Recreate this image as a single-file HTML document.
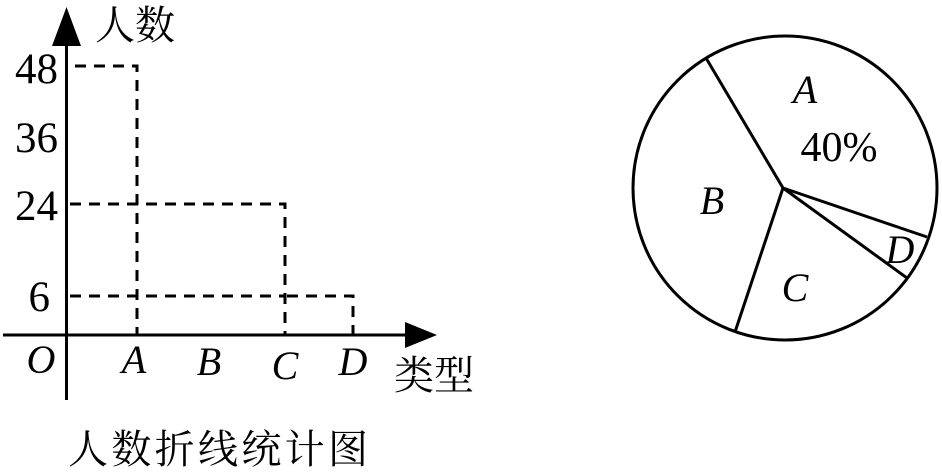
<!DOCTYPE html>
<html><head><meta charset="utf-8"><style>
html,body{margin:0;padding:0;background:#fff;}
svg{display:block;}
.s{font-family:"Liberation Serif","Times New Roman","DejaVu Serif",serif;}
.c{font-family:"Liberation Serif","Noto Serif CJK SC",serif;}
</style></head><body>
<svg width="942" height="472" viewBox="0 0 942 472" xmlns="http://www.w3.org/2000/svg">
<g stroke="#000" stroke-width="3" fill="none">
<line x1="66.5" y1="400" x2="66.5" y2="30"/>
<line x1="3" y1="335" x2="420" y2="335"/>
</g>
<polygon points="66.5,7 52,46 81,46" fill="#000"/>
<polygon points="437,335 405,322 405,348" fill="#000"/>
<g stroke="#000" stroke-width="3" fill="none" stroke-dasharray="11,8">
<polyline points="75,66 137,66 137,335"/>
<polyline points="70,204 285,204 285,335"/>
<line x1="70" y1="296" x2="285" y2="296"/>
<polyline points="287,296 353,296 353,335"/>
</g>
<g class="s" font-size="43" fill="#000" text-anchor="end">
<text x="58" y="83">48</text>
<text x="58" y="152">36</text>
<text x="58" y="220">24</text>
<text x="50" y="311">6</text>
</g>
<g class="s" font-size="40" font-style="italic" fill="#000" text-anchor="middle">
<text x="41" y="373">O</text>
<text x="134" y="373">A</text>
<text x="209" y="375">B</text>
<text x="285" y="379">C</text>
<text x="353" y="375">D</text>
</g>
<g class="c" font-size="40" fill="#000">
<text x="95" y="39">人数</text>
<text x="394" y="389">类型</text>
<text x="68" y="463" textLength="300" lengthAdjust="spacing">人数折线统计图</text>
</g>
<g stroke="#000" stroke-width="3" fill="none">
<circle cx="785" cy="188" r="152"/>
<line x1="783" y1="188" x2="706" y2="58"/>
<line x1="783" y1="188" x2="735" y2="332"/>
<line x1="783" y1="188" x2="907" y2="278"/>
<line x1="783" y1="188" x2="927" y2="237"/>
</g>
<g class="s" font-size="40" font-style="italic" fill="#000" text-anchor="middle">
<text x="805" y="103">A</text>
<text x="712" y="214">B</text>
<text x="795" y="301">C</text>
<text x="900" y="263">D</text>
</g>
<text class="s" x="839" y="161" font-size="42" text-anchor="middle" fill="#000">40%</text>
</svg>
</body></html>
